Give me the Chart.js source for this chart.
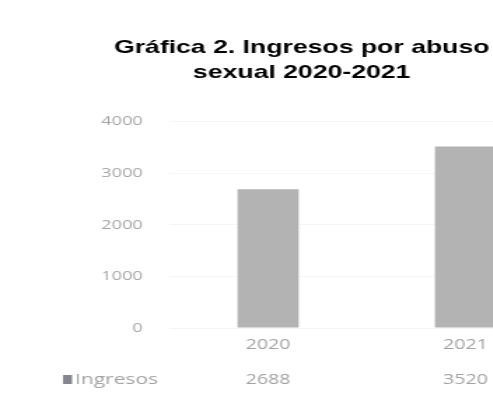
<!DOCTYPE html>
<html>
<head>
<meta charset="utf-8">
<script src="https://cdn.jsdelivr.net/npm/chart.js@4"></script>
<style>
  html, body { margin: 0; padding: 0; background: #fff; overflow: hidden; width: 493px; height: 410px; }
  /* the scanned original is stretched sideways, so the canvas is too */
  #wrap { width: 431px; height: 410px; transform: scaleX(1.4); transform-origin: 0 0; }
</style>
</head>
<body>
<div id="wrap"><canvas id="chart" width="431" height="410"></canvas></div>
<script>
const years = ['2020', '2021'];
const ingresos = [2688, 3520];
const yTicks = [0, 1000, 2000, 3000, 4000];
const titleLines = ['Gráfica 2. Ingresos por abuso', 'sexual 2020-2021'];
const seriesName = 'Ingresos';

// little data table row: legend key on the left of the value labels
const tableKey = {
    id: 'tableKey',
    afterDraw(chart) {
        const ctx = chart.ctx;
        const ds = chart.data.datasets[0];
        const y = chart.chartArea.bottom + 35 + 17;
        ctx.save();
        ctx.fillStyle = '#85858f';
        ctx.fillRect(45, y - 5, 6.5, 9);
        ctx.fillStyle = '#a3a3a3';
        ctx.font = '15px "Open Sans"';
        ctx.textBaseline = 'middle';
        ctx.fillText(ds.label, 53.5, y);
        ctx.restore();
    }
};

new Chart(document.getElementById('chart'), {
    type: 'bar',
    data: {
        labels: years,
        datasets: [{
            label: seriesName,
            data: ingresos,
            backgroundColor: '#b3b3b3',
            barPercentage: 0.31,
            categoryPercentage: 1
        }]
    },
    options: {
        responsive: false,
        animation: false,
        layout: { padding: { left: 28, right: 28, top: 0, bottom: 12 } },
        plugins: {
            legend: { display: false },
            tooltip: { enabled: false },
            title: {
                display: true,
                text: titleLines,
                color: '#000',
                font: { family: '"Liberation Sans", Arial', size: 19, weight: 'bold', lineHeight: 1.28 },
                padding: { top: 36, bottom: 37 }
            }
        },
        scales: {
            x: {
                grid: { display: false, drawTicks: false },
                border: { display: false },
                ticks: {
                    padding: 0,
                    color: '#a3a3a3',
                    font: { family: '"Open Sans"', size: 14, lineHeight: 2.5 },
                    callback: (v, i) => [years[i], String(ingresos[i])]
                }
            },
            y: {
                min: yTicks[0],
                max: yTicks[yTicks.length - 1],
                afterBuildTicks: s => { s.ticks = yTicks.map(v => ({ value: v })); },
                afterFit: s => { s.width = 93; },
                grid: { color: '#f6f6f6', drawTicks: false },
                border: { display: false },
                ticks: {
                    padding: 19,
                    color: '#a6a6a6',
                    font: { family: '"Open Sans"', size: 13 },
                    callback: v => String(v)
                }
            }
        }
    },
    plugins: [tableKey]
});
</script>
</body>
</html>
